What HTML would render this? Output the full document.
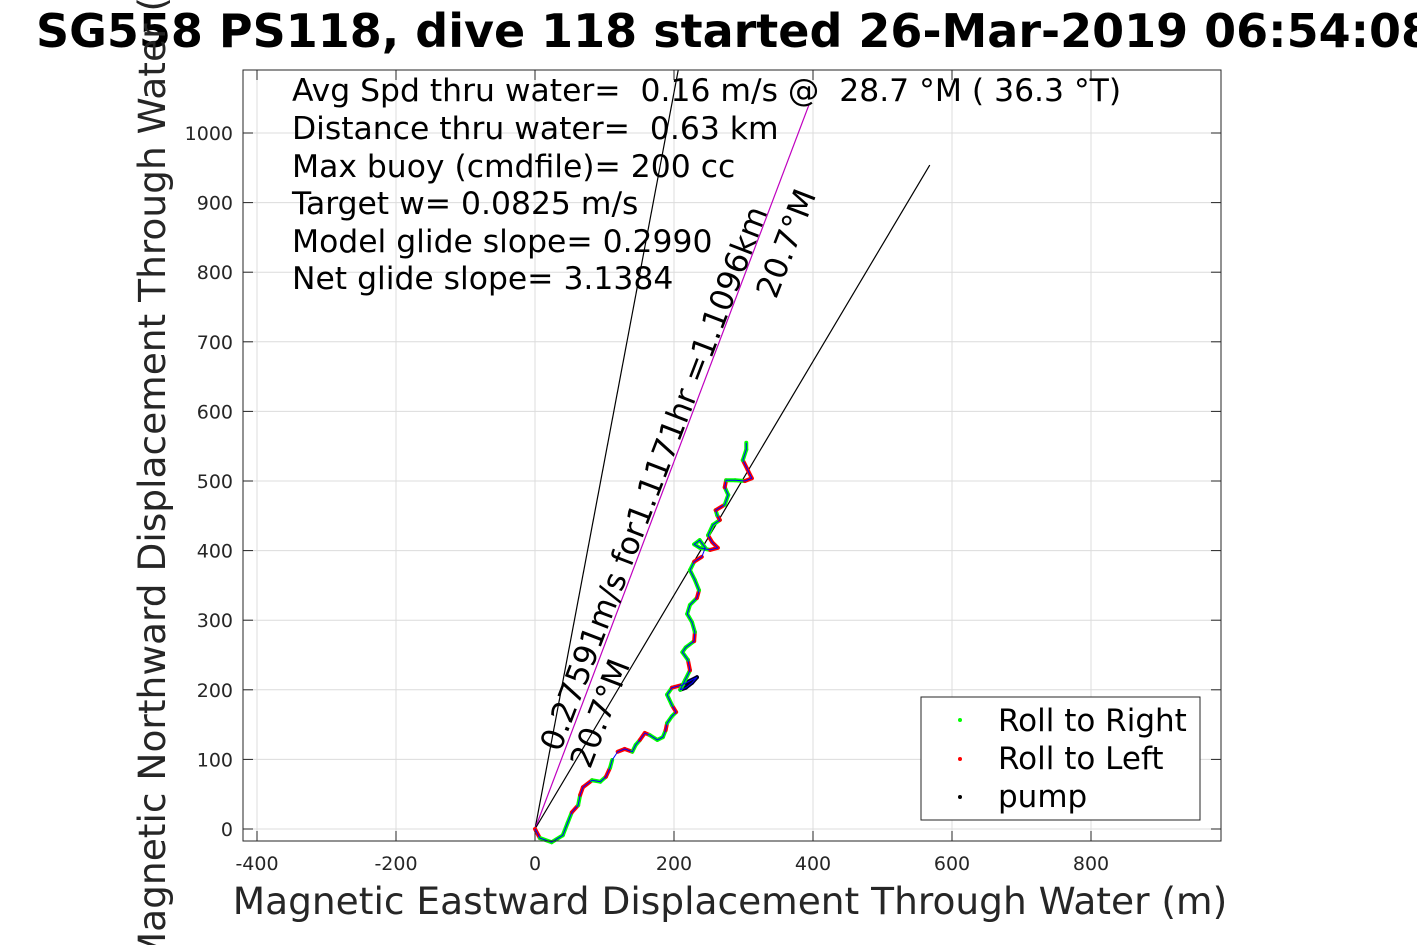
<!DOCTYPE html>
<html><head><meta charset="utf-8">
<style>
html,body{margin:0;padding:0;background:#fff;}
body{width:1417px;height:945px;overflow:hidden;position:relative;font-family:"DejaVu Sans","Liberation Sans",sans-serif;}
svg text{font-family:"DejaVu Sans","Liberation Sans",sans-serif;white-space:pre;}
</style></head>
<body>
<svg id="chart" width="1417" height="945" xmlns="http://www.w3.org/2000/svg" xml:space="preserve">
<rect x="0" y="0" width="1417" height="945" fill="#fff"/>
<g id="grid"></g>
<g id="lines"></g>
<g id="track"></g>
<rect x="243" y="70" width="978" height="771" fill="none" stroke="#262626" stroke-width="1"/>
<g id="ticks"></g>
<text x="36" y="47" font-size="46" font-weight="bold" fill="#000">SG558 PS118, dive 118 started 26-Mar-2019 06:54:08</text>
<text x="730" y="914" font-size="37.5" fill="#262626" text-anchor="middle">Magnetic Eastward Displacement Through Water (m)</text>
<text transform="translate(165,455) rotate(-90)" font-size="37.5" fill="#262626" text-anchor="middle">Magnetic Northward Displacement Through Water (m)</text>
<g font-size="31.4" fill="#000">
<text x="292" y="101">Avg Spd thru water=  0.16 m/s @  28.7 °M ( 36.3 °T)</text>
<text x="292" y="139">Distance thru water=  0.63 km</text>
<text x="292" y="177">Max buoy (cmdfile)= 200 cc</text>
<text x="292" y="214">Target w= 0.0825 m/s</text>
<text x="292" y="252">Model glide slope= 0.2990</text>
<text x="292" y="289">Net glide slope= 3.1384</text>
</g>
<g id="legend">
<rect x="921" y="697" width="279" height="123" fill="#fff" stroke="#262626" stroke-width="1"/>
<circle cx="960" cy="720" r="2" fill="#00ff00"/><text x="998" y="731" font-size="31">Roll to Right</text>
<circle cx="960" cy="759" r="2" fill="#ff0000"/><text x="998" y="769" font-size="31">Roll to Left</text>
<circle cx="960" cy="797" r="2" fill="#000"/><text x="998" y="807" font-size="31">pump</text>
</g>
</svg>
<script>
const xTicks=[-400,-200,0,200,400,600,800];
const yTicks=[0,100,200,300,400,500,600,700,800,900,1000];
const trackEast=[0,7,24,40,47,53,62,65,69,82,94,102,108,111,119,129,140,145,151,158,165,176,184,188,190,197,203,197,190,197,212,223,233,226,217,209,216,223,220,212,217,229,230,226,219,223,233,236,230,223,229,240,245,237,229,237,252,263,255,249,256,266,262,260,273,278,273,275,288,302,312,306,299,304,304];
const trackNorth=[0,-13,-19,-9,9,24,34,49,60,70,68,75,88,99,111,115,111,121,128,138,135,128,132,142,152,162,168,178,193,203,207,213,218,210,203,200,214,228,243,254,261,270,283,297,309,322,332,343,358,372,384,391,404,415,409,404,401,404,412,422,437,444,451,458,466,480,491,501,501,500,504,516,530,545,555];
const trackRoll=['r','g','g','g','g','r','g','r','r','g','g','r','g','b','r','r','g','g','r','r','g','g','g','r','g','g','r','g','g','r','k','k','k','k','k','g','g','r','g','g','g','r','g','g','g','g','r','g','g','g','r','b','g','g','g','g','r','r','r','g','g','r','g','r','g','g','r','g','g','r','r','r','g','g','r'];
const rayEnds=[[206,1090],[394,1040],[568,954]];
const rayColors=['#000','#bf00bf','#000'];
const X=v=>535+v*0.695, Y=v=>829-v*0.696;
const NS='http://www.w3.org/2000/svg';
function mk(tag,parent,attrs){const e=document.createElementNS(NS,tag);for(const k in attrs)e.setAttribute(k,attrs[k]);parent.appendChild(e);return e;}
const grid=document.getElementById('grid'),ticks=document.getElementById('ticks');
xTicks.forEach(t=>{
 const l=mk('line',grid,{x1:X(t),x2:X(t),y1:70,y2:841,stroke:'#dcdcdc','stroke-width':1});
 
 
 mk('line',ticks,{x1:X(t),x2:X(t),y1:841,y2:831,stroke:'#262626'});
 mk('line',ticks,{x1:X(t),x2:X(t),y1:70,y2:80,stroke:'#262626'});
 const tx=mk('text',ticks,{x:X(t),y:870,'font-size':19,'text-anchor':'middle',fill:'#262626'});
 tx.textContent=t;
 
 
});
yTicks.forEach(t=>{
 const l=mk('line',grid,{x1:243,x2:1221,y1:Y(t),y2:Y(t),stroke:'#dcdcdc','stroke-width':1});
 
 
 mk('line',ticks,{x1:243,x2:253,y1:Y(t),y2:Y(t),stroke:'#262626'});
 mk('line',ticks,{x1:1221,x2:1211,y1:Y(t),y2:Y(t),stroke:'#262626'});
 const tx=mk('text',ticks,{x:233,y:Y(t)+7,'font-size':19,'text-anchor':'end',fill:'#262626'});
 tx.textContent=t;
 
 
});
const lines=document.getElementById('lines');
rayEnds.forEach((p,i)=>{
 const l=mk('line',lines,{x1:X(0),y1:Y(0),x2:X(p[0]),y2:Y(p[1]),stroke:rayColors[i],'stroke-width':1.2});
 
 
});
function rotText(str,x,y,ang,name){const t=mk('text',lines,{transform:`translate(${x},${y}) rotate(${ang})`,'font-size':31.5,fill:'#000'});t.textContent=str;
 
 }
rotText('0.27591m/s for1.1171hr =1.1096km',560,753,-69,'speed-label');
rotText('20.7°M',590,770,-69,'heading-label-low');
rotText('20.7°M',776,300,-69,'heading-label-high');
const track=document.getElementById('track');
const pts=trackEast.map((e,i)=>X(e)+','+Y(trackNorth[i])).join(' ');
const cmap={g:'#00ff00',r:'#ff0000',k:'#000022'};
for(let i=0;i<trackEast.length-1;i++){
 const c=cmap[trackRoll[i]];if(!c)continue;
 const s=mk('line',track,{x1:X(trackEast[i]),y1:Y(trackNorth[i]),x2:X(trackEast[i+1]),y2:Y(trackNorth[i+1]),stroke:c,'stroke-width':4,'stroke-linecap':'round'});
 
 
}
const pl2=mk('polyline',track,{points:pts,fill:'none',stroke:'#0000ff','stroke-width':1});


</script>
</body></html>
